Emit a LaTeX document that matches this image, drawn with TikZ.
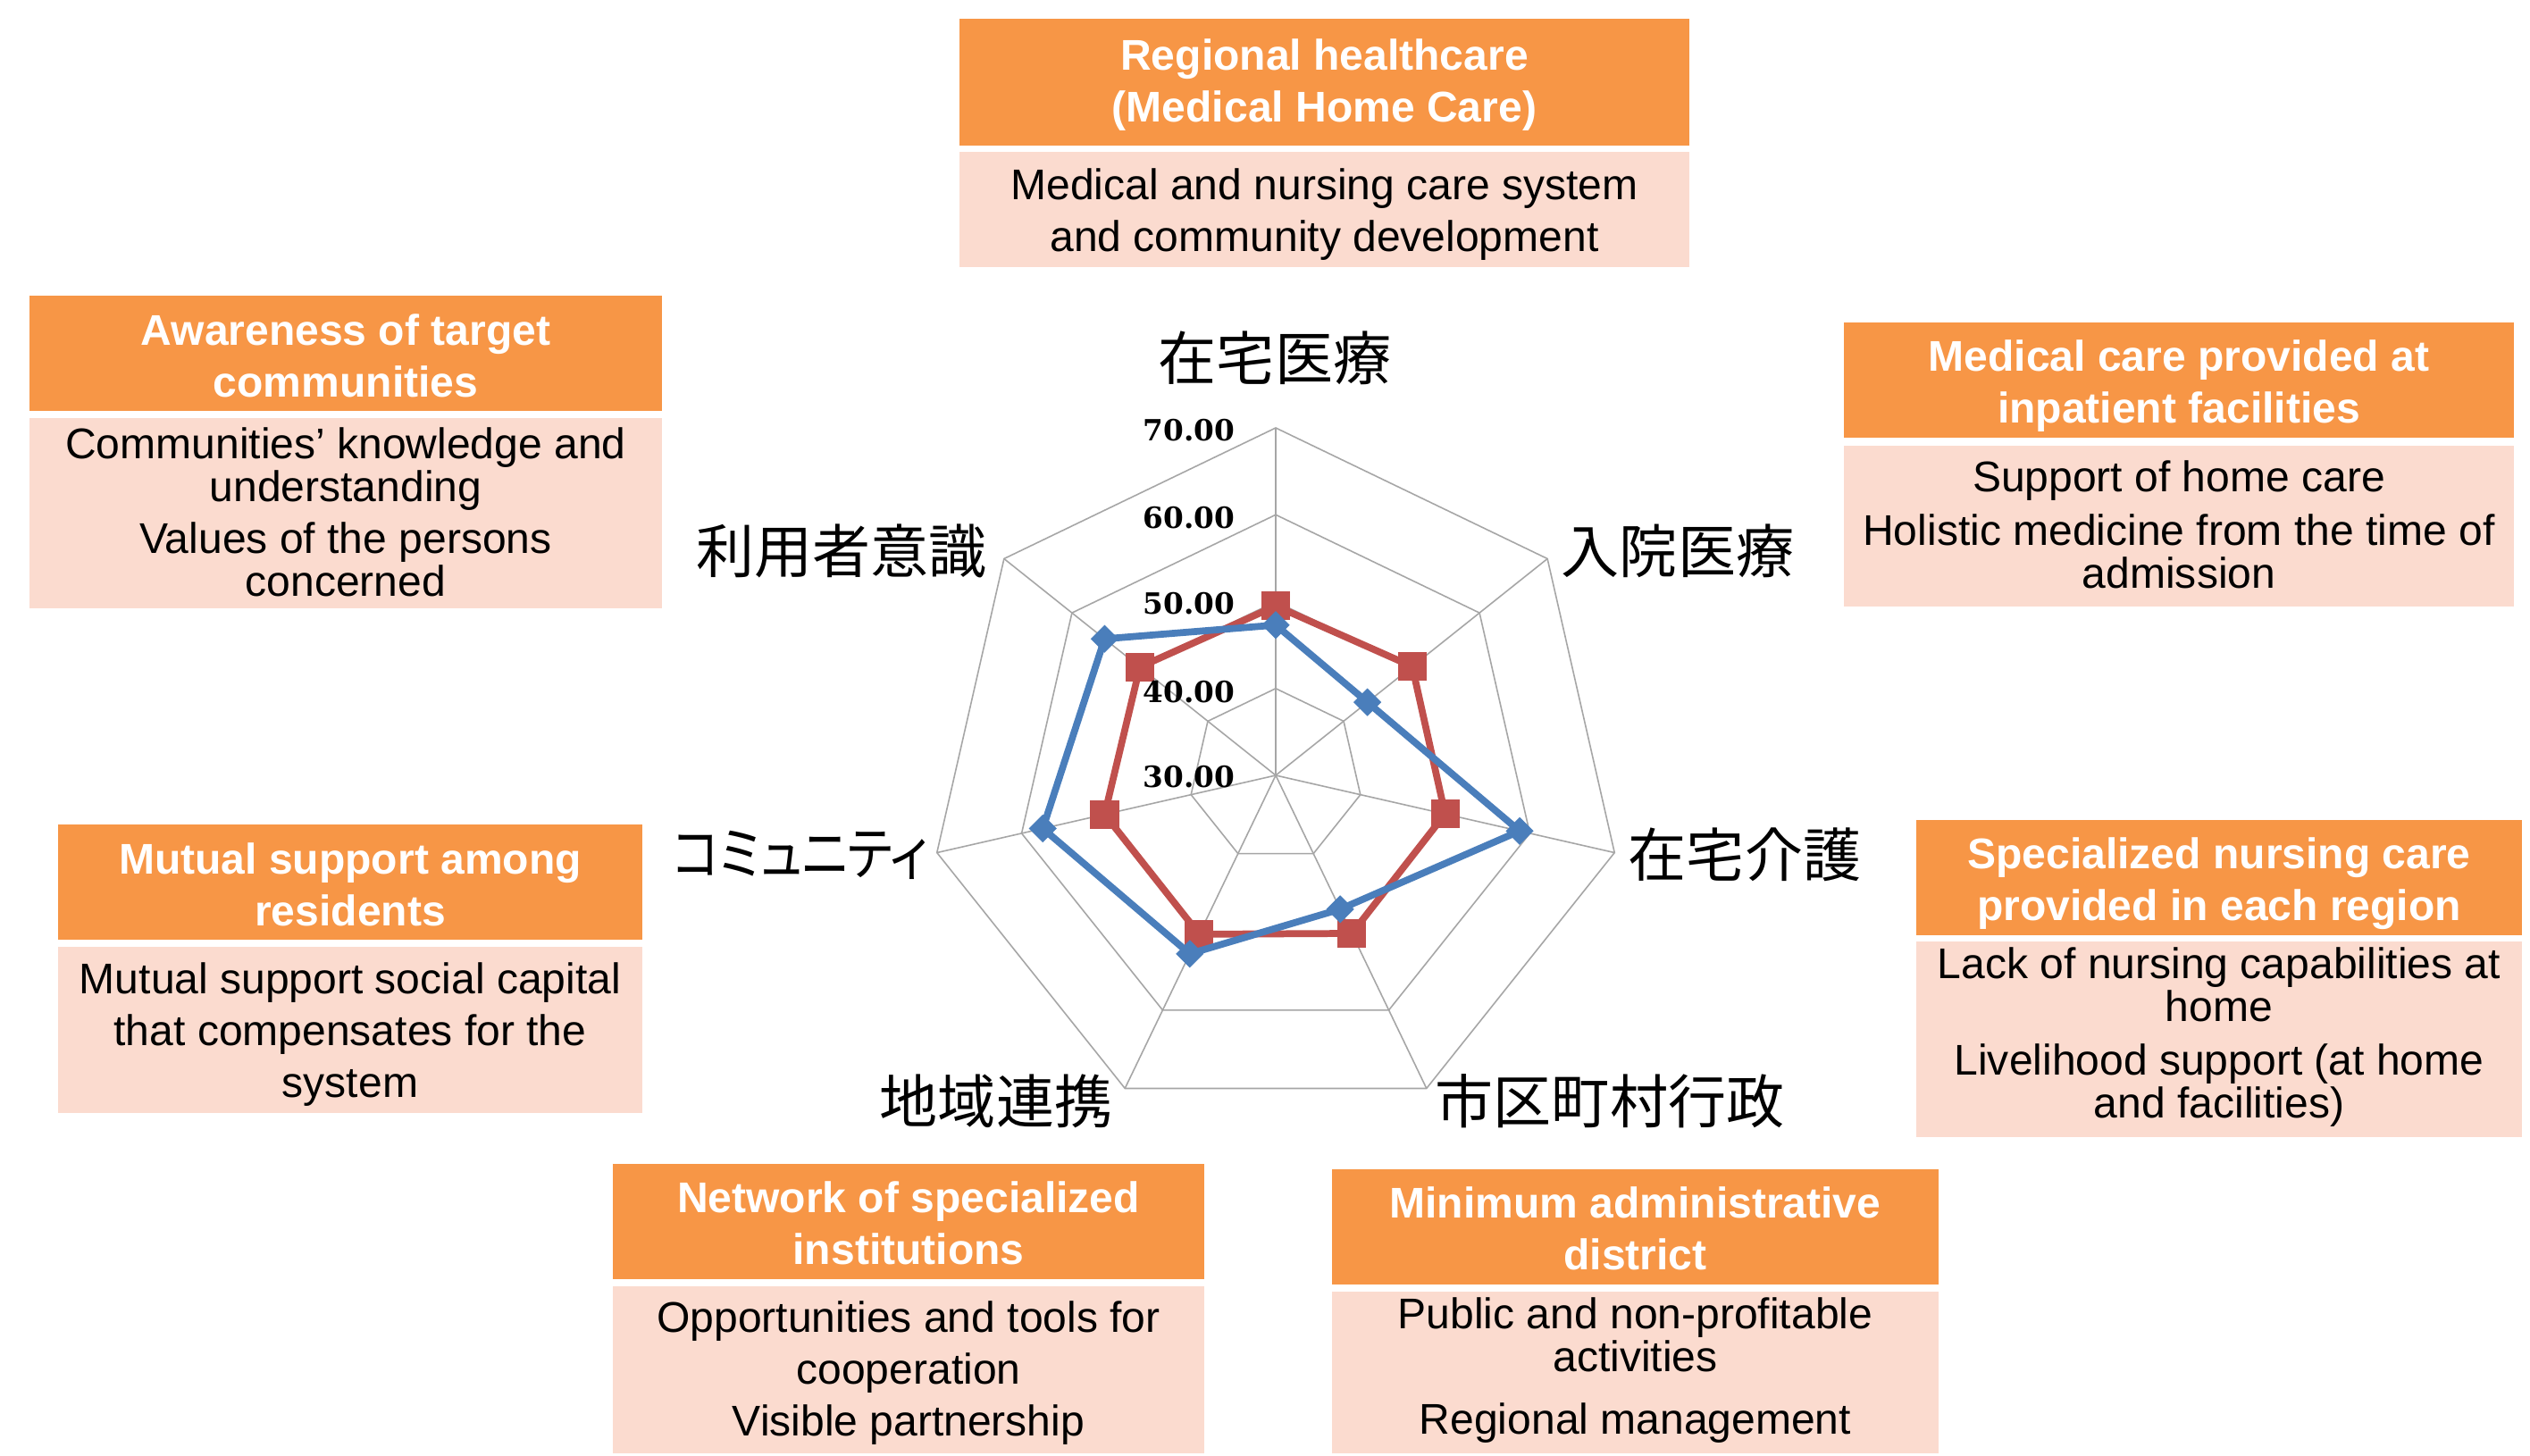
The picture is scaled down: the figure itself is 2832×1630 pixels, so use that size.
\documentclass[tikz,border=0pt]{standalone}
\usepackage{fontspec}
\newfontfamily\arial{Liberation Sans}
\newfontfamily\numserif{DejaVu Serif}
\newfontfamily\jpfont{Noto Sans CJK JP}
\newfontfamily\jpprop{Noto Sans CJK JP}[RawFeature=+palt]
\usetikzlibrary{calc}
\definecolor{hdrorange}{RGB}{247,150,70}
\definecolor{bodypink}{RGB}{251,219,207}
\definecolor{gridgray}{RGB}{166,166,166}
\definecolor{serred}{RGB}{192,80,77}
\definecolor{serblue}{RGB}{74,126,187}
\newcommand\hdrfont{\arial\bfseries\fontsize{13.66pt}{16.5pt}\selectfont}
\newcommand\bodyfont{\arial\fontsize{13.66pt}{13.66pt}\selectfont\lineskiplimit=-20pt\lineskip=0pt}
\newcommand\jpsize{\fontsize{18.5pt}{20pt}\selectfont}
\tikzset{
 hdrbox/.style={fill=hdrorange, inner sep=0pt},
 pinkbox/.style={fill=bodypink, inner sep=0pt},
 hdrtext/.style={text=white, font=\hdrfont, align=center, inner sep=0pt},
 pinktext/.style={text=black, font=\bodyfont, align=center, inner sep=0pt},
 gridline/.style={draw=gridgray, line width=0.45pt},
 redline/.style={draw=serred, line width=2.2pt, line join=round},
 blueline/.style={draw=serblue, line width=2.2pt, line join=round},
 redmark/.style={fill=serred, rectangle, minimum size=0.32cm, inner sep=0pt},
 bluemark/.style={fill=serblue, rectangle, rotate=45, minimum size=0.22cm, inner sep=0pt},
 vlabel/.style={font=\numserif\bfseries\fontsize{9.3pt}{11pt}\selectfont, anchor=east, inner sep=0pt},
 axlabel/.style={font=\jpfont\jpsize, inner sep=0pt},
}
\begin{document}
\begin{tikzpicture}[x=0.01cm,y=-0.01cm]
\fill[white] (0,0) rectangle (2832,1630);
\useasboundingbox (0,0) rectangle (2832,1630);

% ---------- boxes ----------
\node[hdrbox, minimum width=8.17cm, minimum height=1.42cm] (h1) at (1482.5,92) {};
\node[hdrtext] (ht1) at ($(h1)+(0,3)$) {Regional healthcare\\(Medical Home Care)};
\node[pinkbox, minimum width=8.17cm, minimum height=1.29cm] (b1) at (1482.5,234.5) {};
\node[pinktext] (bt1) at ($(b1)+(0,6)$) {Medical and nursing care system\\[2.85pt]and community development};

\node[hdrbox, minimum width=7.08cm, minimum height=1.29cm] (h2) at (387,395.5) {};
\node[hdrtext] (ht2) at ($(h2)+(0,3)$) {Awareness of target\\communities};
\node[pinkbox, minimum width=7.08cm, minimum height=2.13cm] (b2) at (387,574.5) {};
\node[pinktext] (bt2) at ($(b2)+(0,-1)$) {Communities’ knowledge and\\understanding\\[2.85pt]Values of the persons\\concerned};

\node[hdrbox, minimum width=7.50cm, minimum height=1.29cm] (h3) at (2439,425.5) {};
\node[hdrtext] (ht3) at ($(h3)+(0,7)$) {Medical care provided at\\inpatient facilities};
\node[pinkbox, minimum width=7.50cm, minimum height=1.80cm] (b3) at (2439,589) {};
\node[pinktext] (bt3) at ($(b3)+(0,-2)$) {Support of home care\\[3.4pt]Holistic medicine from the time of\\admission};

\node[hdrbox, minimum width=6.54cm, minimum height=1.29cm] (h4) at (392,987.5) {};
\node[hdrtext] (ht4) at ($(h4)+(0,3)$) {Mutual support among\\residents};
\node[pinkbox, minimum width=6.54cm, minimum height=1.86cm] (b4) at (392,1153) {};
\node[pinktext] (bt4) at ($(b4)+(0,5)$) {Mutual support social capital\\[2.85pt]that compensates for the\\[2.85pt]system};

\node[hdrbox, minimum width=6.78cm, minimum height=1.29cm] (h5) at (2484,982.5) {};
\node[hdrtext] (ht5) at ($(h5)+(0,7)$) {Specialized nursing care\\provided in each region};
\node[pinkbox, minimum width=6.78cm, minimum height=2.19cm] (b5) at (2484,1163.5) {};
\node[pinktext] (bt5) at ($(b5)+(0,-2)$) {Lack of nursing capabilities at\\home\\[3.4pt]Livelihood support (at home\\and facilities)};

\node[hdrbox, minimum width=6.62cm, minimum height=1.29cm] (h6) at (1017,1367.5) {};
\node[hdrtext] (ht6) at ($(h6)+(0,2)$) {Network of specialized\\institutions};
\node[pinkbox, minimum width=6.62cm, minimum height=1.87cm] (b6) at (1017,1533.5) {};
\node[pinktext] (bt6) at ($(b6)+(0,4)$) {Opportunities and tools for\\[2.85pt]cooperation\\[2.85pt]Visible partnership};

\node[hdrbox, minimum width=6.79cm, minimum height=1.29cm] (h7) at (1830.5,1373.5) {};
\node[hdrtext] (ht7) at ($(h7)+(0,2)$) {Minimum administrative\\district};
\node[pinkbox, minimum width=6.79cm, minimum height=1.81cm] (b7) at (1830.5,1536.5) {};
\node[pinktext] (bt7) at ($(b7)+(0,-2)$) {Public and non-profitable\\activities\\[6.26pt]Regional management};

% ---------- radar grid ----------
\coordinate (C) at (1428,868);
\foreach \k in {1,2,3,4} {
  \draw[gridline] ($(C)+(-90:{97.25*\k})$)
    -- ($(C)+({1*360/7-90}:{97.25*\k})$)
    -- ($(C)+({2*360/7-90}:{97.25*\k})$)
    -- ($(C)+({3*360/7-90}:{97.25*\k})$)
    -- ($(C)+({4*360/7-90}:{97.25*\k})$)
    -- ($(C)+({5*360/7-90}:{97.25*\k})$)
    -- ($(C)+({6*360/7-90}:{97.25*\k})$) -- cycle;
}
\foreach \i in {0,...,6} {
  \coordinate (S\i) at ($(C)+({\i*360/7-90}:389)$);
  \draw[gridline] (C) -- (S\i);
}

% ---------- series ----------
\foreach \v [count=\i from 0] in {49.5,50.1,50.0,50.2,50.3,50.2,50.0} {
  \coordinate (R\i) at ($(C)+({\i*360/7-90}:{(\v-30)*9.725})$);
}
\foreach \v [count=\i from 0] in {47.3,43.5,58.8,47.1,52.8,57.5,55.2} {
  \coordinate (B\i) at ($(C)+({\i*360/7-90}:{(\v-30)*9.725})$);
}
\draw[redline] (R0) -- (R1) -- (R2) -- (R3) -- (R4) -- (R5) -- (R6) -- cycle;
\foreach \i in {0,...,6} { \node[redmark] (RM\i) at (R\i) {}; }
\draw[blueline] (B0) -- (B1) -- (B2) -- (B3) -- (B4) -- (B5) -- (B6) -- cycle;
\foreach \i in {0,...,6} { \node[bluemark] (BM\i) at (B\i) {}; }

% ---------- value labels ----------
\node[vlabel] (v70) at (1383,482) {70.00};
\node[vlabel] (v60) at (1383,580) {60.00};
\node[vlabel] (v50) at (1383,676) {50.00};
\node[vlabel] (v40) at (1383,775) {40.00};
\node[vlabel] (v30) at (1383,870) {30.00};

% ---------- axis labels ----------
\node[axlabel] (ax0) at (1427,401) {在宅医療};
\node[axlabel] (ax1) at (1878,617) {入院医療};
\node[axlabel] (ax2) at (1953,957) {在宅介護};
\node[axlabel] (ax3) at (1802,1233) {市区町村行政};
\node[axlabel] (ax4) at (1115,1233) {地域連携};
\node[axlabel] (ax5) at (896,957) {\scalebox{0.85}[1]{\jpprop コミュニティ}};
\node[axlabel] (ax6) at (942,617) {利用者意識};
\end{tikzpicture}
\end{document}
